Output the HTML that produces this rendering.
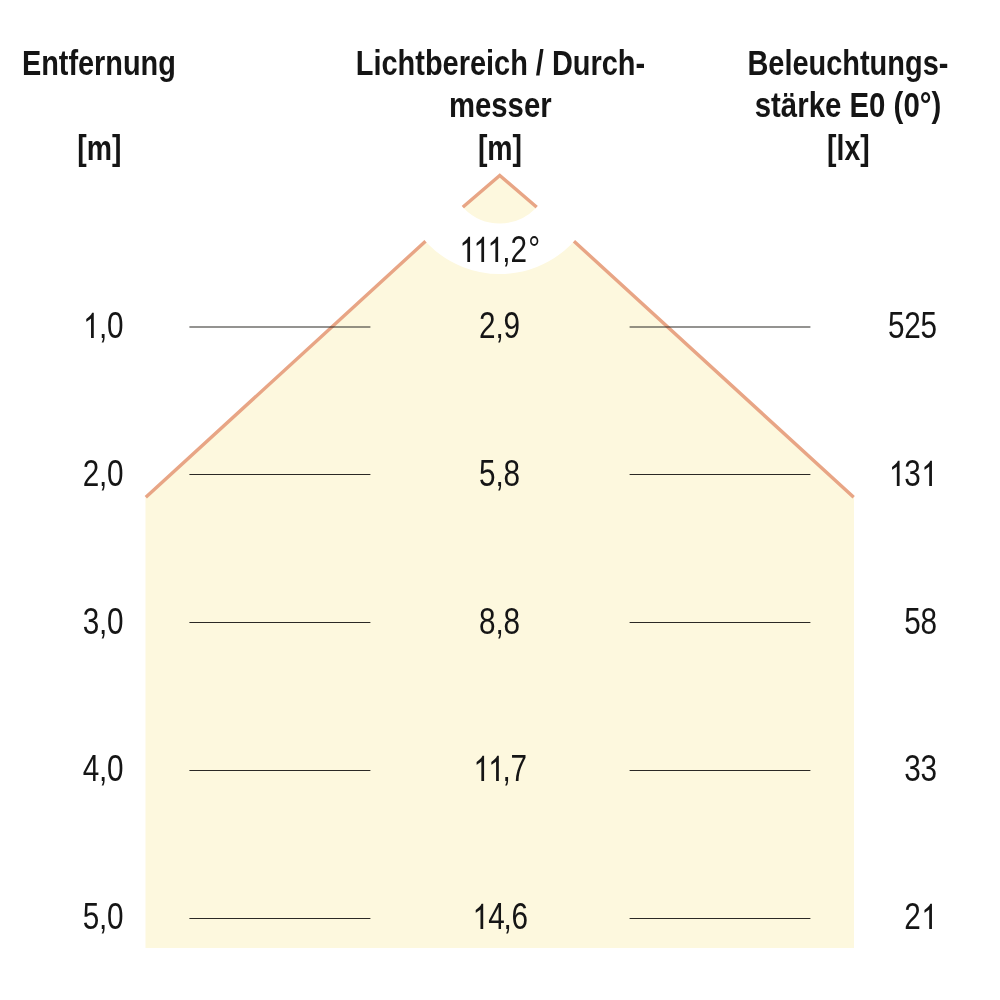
<!DOCTYPE html>
<html>
<head>
<meta charset="utf-8">
<title>Lichtkegel</title>
<style>
html,body{margin:0;padding:0;background:#ffffff;}
body{width:1000px;height:1000px;overflow:hidden;}
svg{display:block;will-change:transform;}
text{font-family:"Liberation Sans",sans-serif;}
.h text{font-weight:bold;font-size:35.5px;}
.v text{font-size:36.0px;}
</style>
</head>
<body>
<svg width="1000" height="1000" viewBox="0 0 1000 1000">
<rect x="0" y="0" width="1000" height="1000" fill="#ffffff"/>
<!-- light cone fill -->
<polygon points="499.75,175.4 463,206.9 145.5,497.6 145.5,948 854,948 854,497.6 536.5,206.9" fill="#fdf8de"/>
<!-- cone edge lines -->
<polyline points="145.8,497.3 463,206.9 499.75,175.4 536.5,206.9 853.7,497.3" fill="none" stroke="#e8a585" stroke-width="3.4" stroke-linejoin="miter"/>
<!-- white ring for the beam-angle label -->
<circle cx="499.75" cy="173.2" r="75.5" fill="none" stroke="#ffffff" stroke-width="50.6"/>
<!-- distance tick lines -->
<g stroke="#2b2925" stroke-width="1.1">
<line x1="189.4" y1="327.0" x2="370.4" y2="327.0"/><line x1="629.6" y1="327.0" x2="810.4" y2="327.0"/>
<line x1="189.4" y1="474.5" x2="370.4" y2="474.5"/><line x1="629.6" y1="474.5" x2="810.4" y2="474.5"/>
<line x1="189.4" y1="622.5" x2="370.4" y2="622.5"/><line x1="629.6" y1="622.5" x2="810.4" y2="622.5"/>
<line x1="189.4" y1="770.5" x2="370.4" y2="770.5"/><line x1="629.6" y1="770.5" x2="810.4" y2="770.5"/>
<line x1="189.4" y1="918.5" x2="370.4" y2="918.5"/><line x1="629.6" y1="918.5" x2="810.4" y2="918.5"/>
</g>
<!-- headers -->
<g class="h" fill="#151515">
<text x="21.94" y="74.7" textLength="153.91" lengthAdjust="spacingAndGlyphs">Entfernung</text>
<text x="77.21" y="159.9" textLength="44.18" lengthAdjust="spacingAndGlyphs">[m]</text>
<text x="355.81" y="74.7" textLength="289.38" lengthAdjust="spacingAndGlyphs">Lichtbereich / Durch-</text>
<text x="449.00" y="117.3" textLength="102.60" lengthAdjust="spacingAndGlyphs">messer</text>
<text x="477.91" y="159.9" textLength="44.18" lengthAdjust="spacingAndGlyphs">[m]</text>
<text x="747.43" y="74.7" textLength="200.94" lengthAdjust="spacingAndGlyphs">Beleuchtungs-</text>
<text x="754.71" y="117.3" textLength="186.58" lengthAdjust="spacingAndGlyphs">stärke E0 (0°)</text>
<text x="827.10" y="159.9" textLength="42.60" lengthAdjust="spacingAndGlyphs">[lx]</text>
</g>
<!-- values -->
<g class="v" fill="#151515">
<text x="459.22" y="262.00" textLength="16.19" lengthAdjust="spacingAndGlyphs" fill="none">1</text><path transform="translate(459.22,262.00) scale(0.014214,0.017236)" d="M763 0H570V-1135Q490 -1080 400 -1025Q300 -965 235 -938V-1104Q370 -1175 485 -1276Q600 -1377 647 -1472H763Z"/><text x="473.25" y="262.00" textLength="16.19" lengthAdjust="spacingAndGlyphs" fill="none">1</text><path transform="translate(473.25,262.00) scale(0.014214,0.017236)" d="M763 0H570V-1135Q490 -1080 400 -1025Q300 -965 235 -938V-1104Q370 -1175 485 -1276Q600 -1377 647 -1472H763Z"/><text x="487.28" y="262.00" textLength="16.19" lengthAdjust="spacingAndGlyphs" fill="none">1</text><path transform="translate(487.28,262.00) scale(0.014214,0.017236)" d="M763 0H570V-1135Q490 -1080 400 -1025Q300 -965 235 -938V-1104Q370 -1175 485 -1276Q600 -1377 647 -1472H763Z"/><text x="502.28" y="262.00" textLength="8.26" lengthAdjust="spacingAndGlyphs">,</text><text x="510.49" y="262.00" textLength="16.52" lengthAdjust="spacingAndGlyphs">2</text><text x="528.13" y="262.00" textLength="11.88" lengthAdjust="spacingAndGlyphs">°</text>
<text x="82.93" y="338.00" textLength="16.19" lengthAdjust="spacingAndGlyphs" fill="none">1</text><path transform="translate(82.93,338.00) scale(0.014214,0.017236)" d="M763 0H570V-1135Q490 -1080 400 -1025Q300 -965 235 -938V-1104Q370 -1175 485 -1276Q600 -1377 647 -1472H763Z"/><text x="99.04" y="338.00" textLength="8.26" lengthAdjust="spacingAndGlyphs">,</text><text x="107.05" y="338.00" textLength="16.52" lengthAdjust="spacingAndGlyphs">0</text>
<text x="479.10" y="338.00" textLength="16.52" lengthAdjust="spacingAndGlyphs">2</text><text x="495.38" y="338.00" textLength="8.26" lengthAdjust="spacingAndGlyphs">,</text><text x="503.38" y="338.00" textLength="16.52" lengthAdjust="spacingAndGlyphs">9</text>
<text x="888.07" y="338.00" textLength="16.52" lengthAdjust="spacingAndGlyphs">5</text><text x="904.26" y="338.00" textLength="16.52" lengthAdjust="spacingAndGlyphs">2</text><text x="920.45" y="338.00" textLength="16.52" lengthAdjust="spacingAndGlyphs">5</text>
<text x="82.77" y="486.00" textLength="16.52" lengthAdjust="spacingAndGlyphs">2</text><text x="99.04" y="486.00" textLength="8.26" lengthAdjust="spacingAndGlyphs">,</text><text x="107.05" y="486.00" textLength="16.52" lengthAdjust="spacingAndGlyphs">0</text>
<text x="479.10" y="486.00" textLength="16.52" lengthAdjust="spacingAndGlyphs">5</text><text x="495.38" y="486.00" textLength="8.26" lengthAdjust="spacingAndGlyphs">,</text><text x="503.38" y="486.00" textLength="16.52" lengthAdjust="spacingAndGlyphs">8</text>
<text x="888.73" y="486.00" textLength="16.19" lengthAdjust="spacingAndGlyphs" fill="none">1</text><path transform="translate(888.73,486.00) scale(0.014214,0.017236)" d="M763 0H570V-1135Q490 -1080 400 -1025Q300 -965 235 -938V-1104Q370 -1175 485 -1276Q600 -1377 647 -1472H763Z"/><text x="904.26" y="486.00" textLength="16.52" lengthAdjust="spacingAndGlyphs">3</text><text x="921.11" y="486.00" textLength="16.19" lengthAdjust="spacingAndGlyphs" fill="none">1</text><path transform="translate(921.11,486.00) scale(0.014214,0.017236)" d="M763 0H570V-1135Q490 -1080 400 -1025Q300 -965 235 -938V-1104Q370 -1175 485 -1276Q600 -1377 647 -1472H763Z"/>
<text x="82.77" y="634.00" textLength="16.52" lengthAdjust="spacingAndGlyphs">3</text><text x="99.04" y="634.00" textLength="8.26" lengthAdjust="spacingAndGlyphs">,</text><text x="107.05" y="634.00" textLength="16.52" lengthAdjust="spacingAndGlyphs">0</text>
<text x="479.10" y="634.00" textLength="16.52" lengthAdjust="spacingAndGlyphs">8</text><text x="495.38" y="634.00" textLength="8.26" lengthAdjust="spacingAndGlyphs">,</text><text x="503.38" y="634.00" textLength="16.52" lengthAdjust="spacingAndGlyphs">8</text>
<text x="904.26" y="634.00" textLength="16.52" lengthAdjust="spacingAndGlyphs">5</text><text x="920.45" y="634.00" textLength="16.52" lengthAdjust="spacingAndGlyphs">8</text>
<text x="82.77" y="781.00" textLength="16.52" lengthAdjust="spacingAndGlyphs">4</text><text x="99.04" y="781.00" textLength="8.26" lengthAdjust="spacingAndGlyphs">,</text><text x="107.05" y="781.00" textLength="16.52" lengthAdjust="spacingAndGlyphs">0</text>
<text x="473.25" y="781.00" textLength="16.19" lengthAdjust="spacingAndGlyphs" fill="none">1</text><path transform="translate(473.25,781.00) scale(0.014214,0.017236)" d="M763 0H570V-1135Q490 -1080 400 -1025Q300 -965 235 -938V-1104Q370 -1175 485 -1276Q600 -1377 647 -1472H763Z"/><text x="487.98" y="781.00" textLength="16.19" lengthAdjust="spacingAndGlyphs" fill="none">1</text><path transform="translate(487.98,781.00) scale(0.014214,0.017236)" d="M763 0H570V-1135Q490 -1080 400 -1025Q300 -965 235 -938V-1104Q370 -1175 485 -1276Q600 -1377 647 -1472H763Z"/><text x="502.39" y="781.00" textLength="8.26" lengthAdjust="spacingAndGlyphs">,</text><text x="510.40" y="781.00" textLength="16.52" lengthAdjust="spacingAndGlyphs">7</text>
<text x="904.26" y="781.00" textLength="16.52" lengthAdjust="spacingAndGlyphs">3</text><text x="920.45" y="781.00" textLength="16.52" lengthAdjust="spacingAndGlyphs">3</text>
<text x="82.77" y="929.00" textLength="16.52" lengthAdjust="spacingAndGlyphs">5</text><text x="99.04" y="929.00" textLength="8.26" lengthAdjust="spacingAndGlyphs">,</text><text x="107.05" y="929.00" textLength="16.52" lengthAdjust="spacingAndGlyphs">0</text>
<text x="472.37" y="929.00" textLength="16.19" lengthAdjust="spacingAndGlyphs" fill="none">1</text><path transform="translate(472.37,929.00) scale(0.014214,0.017236)" d="M763 0H570V-1135Q490 -1080 400 -1025Q300 -965 235 -938V-1104Q370 -1175 485 -1276Q600 -1377 647 -1472H763Z"/><text x="488.20" y="929.00" textLength="16.52" lengthAdjust="spacingAndGlyphs">4</text><text x="503.47" y="929.00" textLength="8.26" lengthAdjust="spacingAndGlyphs">,</text><text x="511.48" y="929.00" textLength="16.52" lengthAdjust="spacingAndGlyphs">6</text>
<text x="904.26" y="929.00" textLength="16.52" lengthAdjust="spacingAndGlyphs">2</text><text x="921.11" y="929.00" textLength="16.19" lengthAdjust="spacingAndGlyphs" fill="none">1</text><path transform="translate(921.11,929.00) scale(0.014214,0.017236)" d="M763 0H570V-1135Q490 -1080 400 -1025Q300 -965 235 -938V-1104Q370 -1175 485 -1276Q600 -1377 647 -1472H763Z"/>
</g>
</svg>
</body>
</html>
